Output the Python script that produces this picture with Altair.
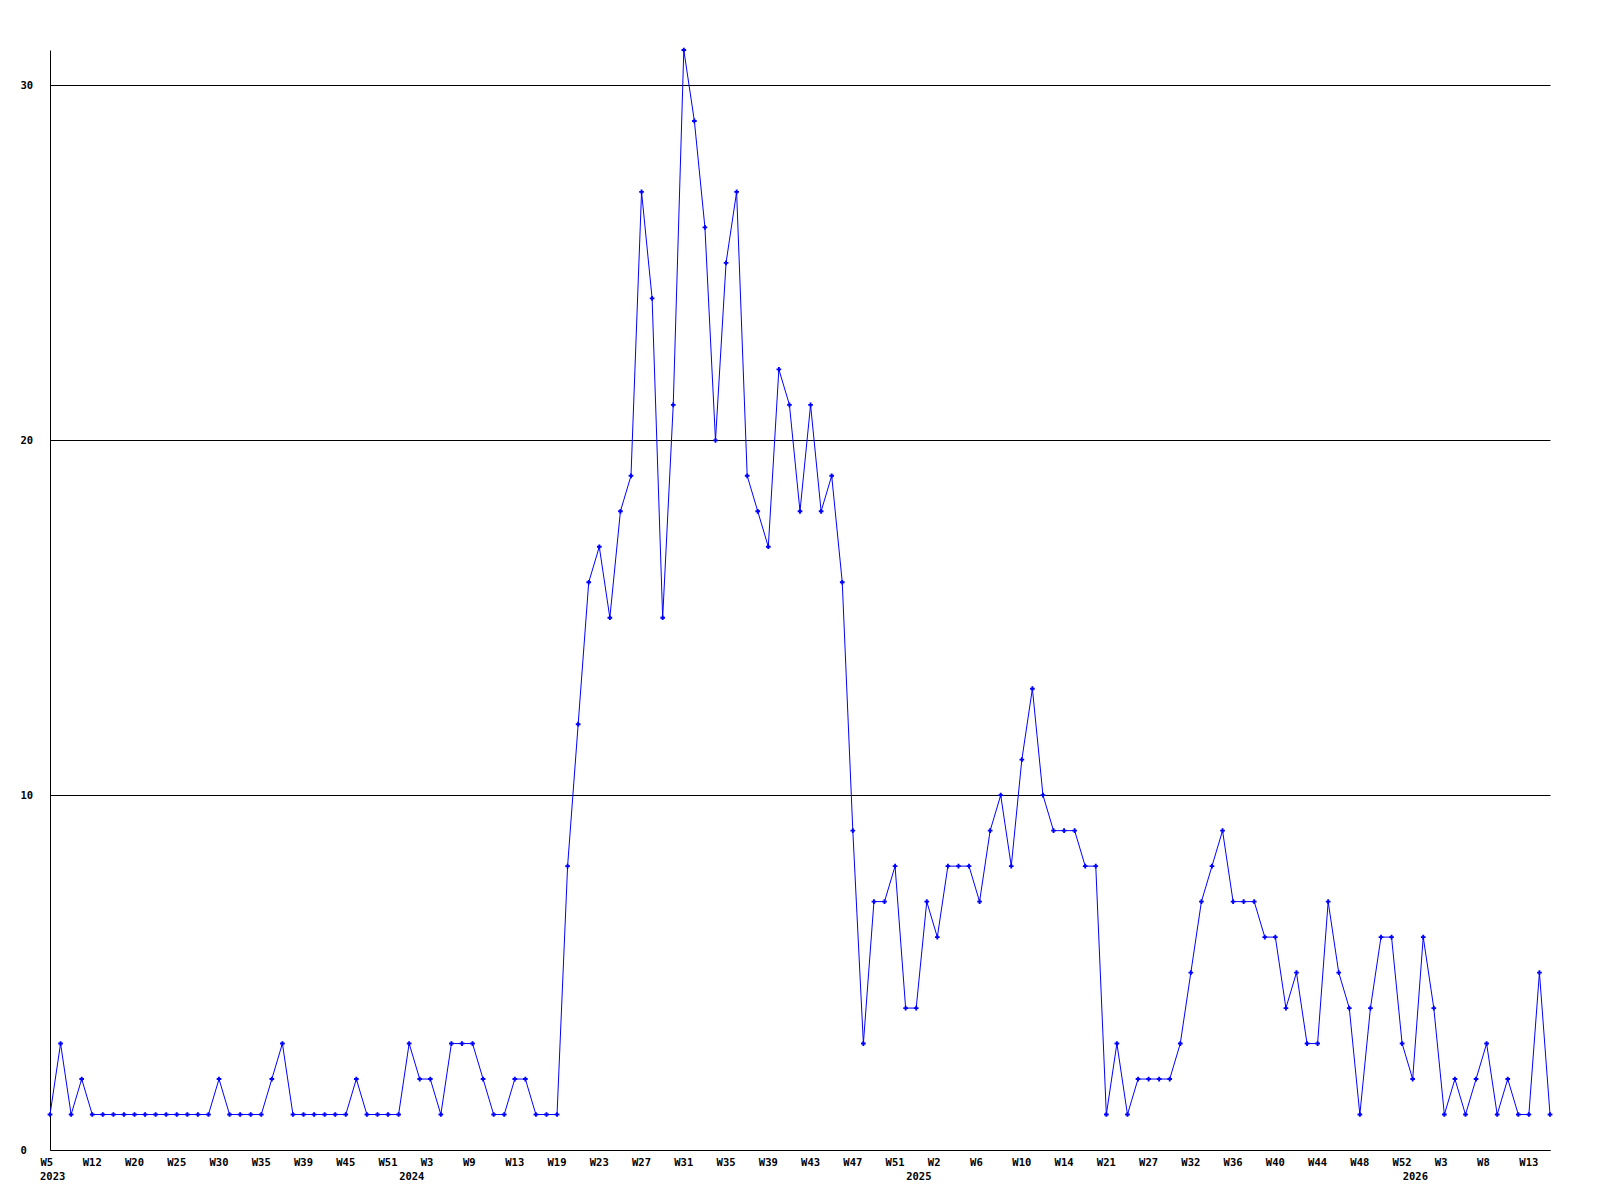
import altair as alt
import pandas as pd

# Weekly counts, one per point on the x axis (143 points)
values = [
    1, 3, 1, 2,
    1, 1, 1, 1, 1, 1, 1, 1, 1, 1, 1, 1,
    2,
    1, 1, 1, 1,
    2, 3,
    1, 1, 1, 1, 1, 1,
    2,
    1, 1, 1, 1,
    3, 2, 2, 1, 3, 3, 3, 2, 1, 1, 2, 2, 1, 1, 1,
    8, 12, 16, 17, 15, 18, 19, 27, 24, 15, 21, 31, 29, 26, 20, 25, 27,
    19, 18, 17, 22, 21, 18, 21, 18, 19, 16, 9, 3, 7, 7, 8, 4, 4, 7, 6,
    8, 8, 8, 7, 9, 10, 8, 11, 13, 10, 9, 9, 9, 8, 8,
    1, 3, 1, 2, 2, 2, 2, 3, 5, 7, 8, 9, 7, 7, 7, 6, 6, 4, 5, 3, 3,
    7, 5, 4, 1, 4, 6, 6, 3, 2, 6, 4, 1, 2, 1, 2, 3, 1, 2, 1, 1, 5, 1,
]

# Tick labels, one every 4th point
week_labels = [
    "W5", "W12", "W20", "W25", "W30", "W35", "W39", "W45", "W51",
    "W3", "W9", "W13", "W19", "W23", "W27", "W31", "W35", "W39", "W43", "W47", "W51",
    "W2", "W6", "W10", "W14", "W21", "W27", "W32", "W36", "W40", "W44", "W48", "W52",
    "W3", "W8", "W13",
]

# Year labels and the point index where each year starts
year_pos = [0, 34, 82, 129]
year_labels = ["2023", "2024", "2025", "2026"]

df = pd.DataFrame({"i": list(range(len(values))), "v": values})
years_df = pd.DataFrame({"i": year_pos, "t": year_labels})

FONT = "DejaVu Sans Mono"
FS = 10.5
W = 1500
H = 1100

label_js = "[" + ",".join("'" + w + "'" for w in week_labels) + "]"
tick_vals = [k * 4 for k in range(len(week_labels))]

x_scale = alt.Scale(domain=[0, len(values) - 1], nice=False, zero=False)
y_scale = alt.Scale(domain=[0, 31], nice=False)

x_axis = alt.Axis(
    values=tick_vals,
    labelExpr=label_js + "[round(datum.value / 4)]",
    title=None,
    grid=False,
    ticks=False,
    tickSize=0,
    labelAlign="left",
    labelOffset=-10,
    labelBaseline="middle",
    labelPadding=12,
    labelFlush=False,
    labelOverlap=False,
    labelBound=False,
    labelFont=FONT,
    labelFontSize=FS,
    labelFontWeight="bold",
    labelColor="black",
    domainColor="black",
    domainWidth=1,
)

y_axis = alt.Axis(
    values=[0, 10, 20, 30],
    title=None,
    grid=True,
    gridColor="black",
    gridWidth=1,
    gridOpacity=1,
    ticks=False,
    tickSize=0,
    labelAlign="left",
    labelBaseline="middle",
    labelPadding=30,
    labelFont=FONT,
    labelFontSize=FS,
    labelFontWeight="bold",
    labelColor="black",
    domainColor="black",
    domainWidth=1,
)

base = alt.Chart(df).encode(
    x=alt.X("i:Q", scale=x_scale, axis=x_axis),
    y=alt.Y("v:Q", scale=y_scale, axis=y_axis),
)

line = base.mark_line(color="#0000ff", strokeWidth=1)
points = base.mark_point(shape="cross", filled=True, size=22, color="#0000ff", opacity=1)

years = alt.Chart(years_df).mark_text(
    align="left",
    dx=-10,
    baseline="middle",
    font=FONT,
    fontSize=FS,
    fontWeight="bold",
    color="black",
).encode(
    x=alt.X("i:Q", scale=x_scale),
    y=alt.value(H + 27),
    text="t:N",
)

chart = (
    alt.layer(line, points, years)
    .properties(
        width=W,
        height=H,
        autosize=alt.AutoSizeParams(type="none"),
        padding={"left": 42, "top": 42, "right": 40, "bottom": 50},
        background="white",
    )
    .configure_view(stroke="transparent")
)

chart.save("out.html", embed_options={"renderer": "svg", "actions": False})
